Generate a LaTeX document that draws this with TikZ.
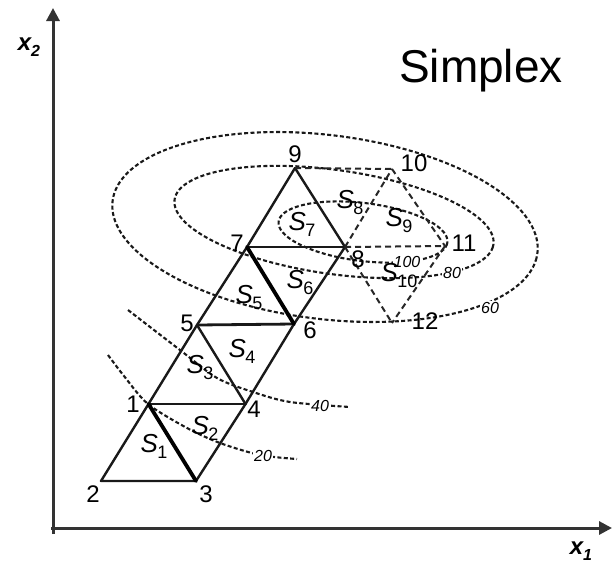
\documentclass[tikz,border=0pt]{standalone}
\usepackage{fontspec}
\setmainfont{Liberation Sans}
\usetikzlibrary{arrows.meta}
\newcommand\lbS[1]{\textit{S}\kern-0.5pt\raisebox{-6pt}{\fontsize{18}{18}\selectfont #1}}
\begin{document}
\begin{tikzpicture}[x=1pt,y=-1pt,
  edge/.style={line width=2.4pt, line cap=round, line join=round, black!90},
  hedge/.style={line width=2.8pt, line cap=round, black!90},
  thickedge/.style={line width=3.8pt, line cap=round},
  dedge/.style={line width=2pt, dash pattern=on 6pt off 4pt, black!85},
  contour/.style={line width=2.1pt, dash pattern=on 4pt off 2.4pt, black!90},
  num/.style={font=\fontsize{24}{24}\selectfont, inner sep=0pt},
  slab/.style={font=\fontsize{26}{26}\selectfont, inner sep=0pt},
  clab/.style={font=\fontsize{16}{16}\selectfont\itshape, fill=white, inner sep=1pt},
  axisline/.style={line width=3pt, black!80, -{Triangle[length=13pt,width=13pt]}},
]
\useasboundingbox (0,0) rectangle (612,565);

% contour lines
\draw[contour] plot[domain=0:357, samples=120, smooth cycle, variable=\t]
  ({325+214*cos(\t)*cos(7)-92*sin(\t)*sin(7)}, {227+214*cos(\t)*sin(7)+92*sin(\t)*cos(7)});
\draw[contour] plot[domain=0:357, samples=120, smooth cycle, variable=\t]
  ({334+161*cos(\t)*cos(8)-52*sin(\t)*sin(8)}, {222+161*cos(\t)*sin(8)+52*sin(\t)*cos(8)});
\draw[contour] plot[domain=0:357, samples=120, smooth cycle, variable=\t]
  ({363+85*cos(\t)*cos(7)-29*sin(\t)*sin(7)}, {232+85*cos(\t)*sin(7)+29*sin(\t)*cos(7)});
\draw[contour] plot[smooth] coordinates {(128,310) (180,350) (217,378) (253,392) (290,402) (350,407)};
\draw[contour] plot[smooth] coordinates {(108,355) (124,376) (148,404) (187,428) (220,443) (260,455) (297,459)};

\node[clab] (c60) at (490,308) {60};
\node[clab] (c80) at (452,273) {80};
\node[clab] (c100) at (407,262) {100};
\node[clab] (c40) at (320,406) {40};
\node[clab] (c20) at (263,456) {20};

% axes
\coordinate (O) at (53,528);
\coordinate (Ob) at (53,534);
\coordinate (Ol) at (51,528);
\coordinate (xend) at (612,528);
\coordinate (yend) at (53,8);
\draw[axisline] (Ob) -- (yend);
\draw[axisline] (Ol) -- (xend);
\node[font=\fontsize{24}{24}\selectfont\itshape\bfseries, inner sep=0pt] (x2) at (29,47) {x\raisebox{-6pt}{\fontsize{16}{16}\selectfont 2}};
\node[font=\fontsize{24}{24}\selectfont\itshape\bfseries, inner sep=0pt] (x1) at (581,551) {x\raisebox{-6pt}{\fontsize{16}{16}\selectfont 1}};

% vertices
\coordinate (p1) at (148.5,404);
\coordinate (p2) at (101,481);
\coordinate (p3) at (196,481);
\coordinate (p4) at (245.5,404);
\coordinate (p5) at (197,325);
\coordinate (p6) at (294,324);
\coordinate (p7) at (247,247);
\coordinate (p8) at (345,247);
\coordinate (p9) at (295,168);
\coordinate (p10) at (392,169);
\coordinate (p11) at (445,246);
\coordinate (p12) at (392,323);

% solid simplex edges
\draw[edge] (p1) -- (p2) -- (p3);
\draw[edge] (p3) -- (p4);
\draw[edge] (p1) -- (p5);
\draw[edge] (p4) -- (p5);
\draw[edge] (p4) -- (p6);
\draw[edge] (p5) -- (p7);
\draw[edge] (p6) -- (p8);
\draw[edge] (p7) -- (p9);
\draw[edge] (p9) -- (p8);
\draw[hedge] (p1) -- (p4);
\draw[hedge] (p5) -- (p6);
\draw[hedge] (p7) -- (p8);
\draw[thickedge] (p1) -- (p3);
\draw[thickedge] (p7) -- (p6);

% dashed simplex edges
\draw[dedge] (p9) -- (p10);
\draw[dedge] (p8) -- (p10);
\draw[dedge] (p10) -- (p11);
\draw[dedge] (p8) -- (p11);
\draw[dedge] (p8) -- (p12);
\draw[dedge] (p11) -- (p12);

% vertex numbers
\node[num] (n1) at (133,404) {1};
\node[num] (n2) at (93,494) {2};
\node[num] (n3) at (206,494) {3};
\node[num] (n4) at (254,409) {4};
\node[num] (n5) at (187,323) {5};
\node[num] (n6) at (310,330) {6};
\node[num] (n7) at (237,243) {7};
\node[num] (n8) at (358,259) {8};
\node[num] (n9) at (295,154) {9};
\node[num] (n10) at (414,163) {10};
\node[num] (n11) at (464,243) {11};
\node[num] (n12) at (425,321) {12};

% simplex labels
\node[slab] (s1) at (154,446) {\lbS{1}};
\node[slab] (s2) at (205,428) {\lbS{2}};
\node[slab] (s3) at (200,368) {\lbS{3}};
\node[slab] (s4) at (242,351) {\lbS{4}};
\node[slab] (s5) at (249,298) {\lbS{5}};
\node[slab] (s6) at (300,283) {\lbS{6}};
\node[slab] (s7) at (302,224) {\lbS{7}};
\node[slab] (s8) at (350,203) {\lbS{8}};
\node[slab] (s9) at (399,221) {\lbS{9}};
\node[slab] (s10) at (399,276) {\lbS{10}};

% title
\node[font=\fontsize{46}{46}\selectfont, inner sep=0pt, anchor=base west] (title) at (399,82) {Simplex};
\end{tikzpicture}
\end{document}
